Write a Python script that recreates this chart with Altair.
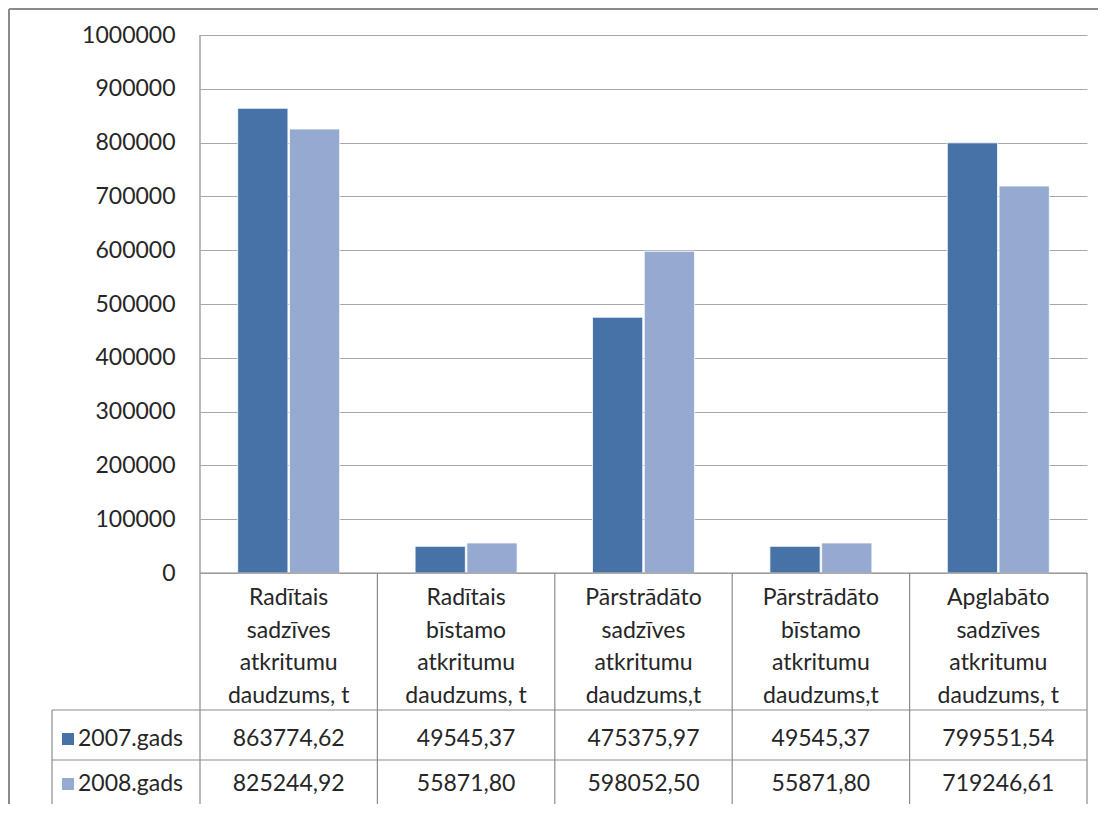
import altair as alt
import pandas as pd

# ---- data ----
categories = [
    "Radītais\nsadzīves\natkritumu\ndaudzums, t",
    "Radītais\nbīstamo\natkritumu\ndaudzums, t",
    "Pārstrādāto\nsadzīves\natkritumu\ndaudzums,t",
    "Pārstrādāto\nbīstamo\natkritumu\ndaudzums,t",
    "Apglabāto\nsadzīves\natkritumu\ndaudzums, t",
]
years = ["2007.gads", "2008.gads"]
values_2007 = [863774.62, 49545.37, 475375.97, 49545.37, 799551.54]
values_2008 = [825244.92, 55871.80, 598052.50, 55871.80, 719246.61]
y_ticks = [0, 100000, 200000, 300000, 400000, 500000, 600000, 700000, 800000, 900000, 1000000]
colors = ["#4672A8", "#95A9D1"]

rows = []
for yr, vals in zip(years, [values_2007, values_2008]):
    for c, v in zip(categories, vals):
        rows.append({"cat": c, "year": yr, "value": v,
                     "label": f"{v:.2f}".replace(".", ",")})
df = pd.DataFrame(rows)

# ---- layout ----
W, H = 887, 538
FONT = "Lato"
FS = 23
TXT = "#262626"
LINE = "#8c8c8c"
step = W / len(categories)
table_top = H
row1_top = 675
row2_top = 725
table_bottom = 771
legend_left = -148
row_centers = [704, 749]

xenc = alt.X("cat:N", sort=categories,
             scale=alt.Scale(domain=categories, paddingInner=0.425, paddingOuter=0.2125),
             axis=None)

bars = alt.Chart(df).mark_bar(stroke="white", strokeWidth=0.8).encode(
    x=xenc,
    xOffset=alt.XOffset("year:N", sort=years, scale=alt.Scale(paddingInner=0.03)),
    y=alt.Y("value:Q",
            scale=alt.Scale(domain=[0, 1000000], nice=False, zero=True),
            axis=alt.Axis(values=y_ticks, format="d", title=None, grid=True,
                          gridColor="#a8a8a8", gridWidth=1, ticks=False, domain=False,
                          labelFont=FONT, labelFontSize=FS, labelColor=TXT,
                          labelPadding=25)),
    color=alt.Color("year:N", sort=years,
                    scale=alt.Scale(domain=years, range=colors), legend=None),
)

header = alt.Chart(df[df["year"] == years[0]]).mark_text(
    lineBreak="\n", lineHeight=32.5, font=FONT, fontSize=FS, color=TXT,
    baseline="middle", align="center"
).encode(x=xenc, y=alt.value(563), text="cat:N")

layers = [bars, header]

for i, yr in enumerate(years):
    sub = df[df["year"] == yr]
    layers.append(alt.Chart(sub).mark_text(
        font=FONT, fontSize=FS, color=TXT, baseline="middle", align="center"
    ).encode(x=xenc, y=alt.value(row_centers[i]), text="label:N"))
    leg = pd.DataFrame({"year": [yr]})
    layers.append(alt.Chart(leg).mark_square(size=144, filled=True, opacity=1,
                                             color=colors[i]).encode(
        x=alt.value(-132), y=alt.value(row_centers[i])))
    layers.append(alt.Chart(leg).mark_text(
        font=FONT, fontSize=FS, color=TXT, baseline="middle", align="left"
    ).encode(x=alt.value(-122), y=alt.value(row_centers[i]), text="year:N"))

one = pd.DataFrame({"k": [0]})


def seg(x1, x2, y1, y2, color=LINE, w=1.2):
    return alt.Chart(one).mark_rule(color=color, strokeWidth=w).encode(
        x=alt.value(x1), x2=alt.value(x2), y=alt.value(y1), y2=alt.value(y2))


# table grid
layers.append(seg(0, 0, 0, table_bottom))
for i in range(1, len(categories) + 1):
    layers.append(seg(i * step, i * step, table_top, table_bottom))
layers.append(seg(0, W, table_top, table_top))
for yy in [row1_top, row2_top, table_bottom]:
    layers.append(seg(legend_left, W, yy, yy))
layers.append(seg(legend_left, legend_left, row1_top, table_bottom))

# outer frame (left and top edges)
layers.append(seg(-191, -191, -26, 790, color="#8a8a8a", w=2))
layers.append(seg(-191, W + 20, -26, -26, color="#8a8a8a", w=2))

chart = alt.layer(*layers).properties(
    width=W, height=H,
    autosize=alt.AutoSizeParams(type="none"),
    padding={"left": 192, "top": 27, "right": 11, "bottom": 231},
    background="white",
).configure_view(stroke=None)

chart.save("out.html", embed_options={"renderer": "svg", "actions": False})
